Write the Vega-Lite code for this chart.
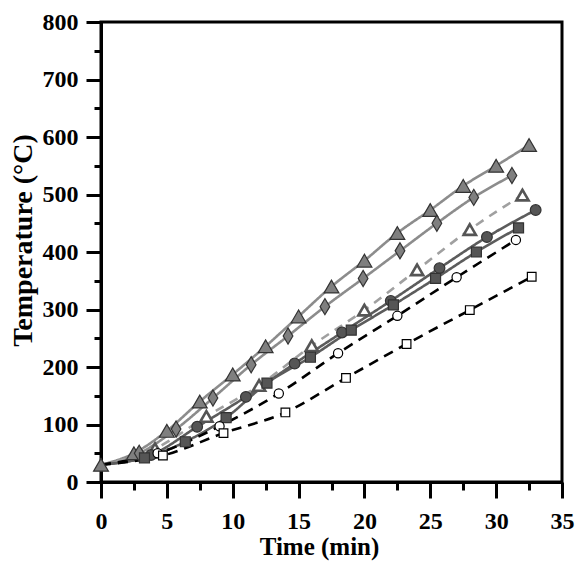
{
  "$schema": "https://vega.github.io/schema/vega-lite/v6.json",
  "width": 461,
  "height": 460,
  "autosize": "none",
  "padding": {"left": 101, "top": 22, "right": 14, "bottom": 81},
  "background": "white",
  "config": {
    "view": {"stroke": "black", "strokeWidth": 3},
    "axis": {
      "grid": false,
      "domainColor": "black",
      "domainWidth": 3,
      "tickColor": "black",
      "tickWidth": 3,
      "labelFont": "Times New Roman",
      "labelFontWeight": "bold",
      "labelFontSize": 24,
      "labelColor": "black",
      "titleFont": "Times New Roman",
      "titleFontWeight": "bold",
      "titleFontSize": 25,
      "titleColor": "black"
    }
  },
  "datasets": {
    "series": [
      {"s": "A", "t": 0, "T": 30}, {"s": "A", "t": 2.5, "T": 50}, {"s": "A", "t": 5, "T": 89}, {"s": "A", "t": 7.5, "T": 140}, {"s": "A", "t": 10, "T": 187}, {"s": "A", "t": 12.5, "T": 236}, {"s": "A", "t": 15, "T": 288}, {"s": "A", "t": 17.5, "T": 340}, {"s": "A", "t": 20, "T": 385}, {"s": "A", "t": 22.5, "T": 433}, {"s": "A", "t": 25, "T": 473}, {"s": "A", "t": 27.5, "T": 515}, {"s": "A", "t": 30, "T": 550}, {"s": "A", "t": 32.5, "T": 586},
      {"s": "B", "t": 0, "T": 30}, {"s": "B", "t": 2.9, "T": 50}, {"s": "B", "t": 5.7, "T": 92}, {"s": "B", "t": 8.5, "T": 146}, {"s": "B", "t": 11.4, "T": 204}, {"s": "B", "t": 14.2, "T": 254}, {"s": "B", "t": 17, "T": 305}, {"s": "B", "t": 19.9, "T": 354}, {"s": "B", "t": 22.7, "T": 402}, {"s": "B", "t": 25.5, "T": 450}, {"s": "B", "t": 28.3, "T": 495}, {"s": "B", "t": 31.2, "T": 533},
      {"s": "C", "t": 0, "T": 30}, {"s": "C", "t": 4.1, "T": 58}, {"s": "C", "t": 8, "T": 114}, {"s": "C", "t": 12, "T": 168}, {"s": "C", "t": 16, "T": 237}, {"s": "C", "t": 20, "T": 299}, {"s": "C", "t": 24, "T": 369}, {"s": "C", "t": 28, "T": 439}, {"s": "C", "t": 32, "T": 499},
      {"s": "D", "t": 0, "T": 30}, {"s": "D", "t": 3.8, "T": 47}, {"s": "D", "t": 7.3, "T": 96}, {"s": "D", "t": 11, "T": 148}, {"s": "D", "t": 14.7, "T": 206}, {"s": "D", "t": 18.3, "T": 260}, {"s": "D", "t": 22, "T": 315}, {"s": "D", "t": 25.7, "T": 372}, {"s": "D", "t": 29.3, "T": 426}, {"s": "D", "t": 33, "T": 473},
      {"s": "E", "t": 0, "T": 30}, {"s": "E", "t": 3.3, "T": 42}, {"s": "E", "t": 6.4, "T": 70}, {"s": "E", "t": 9.5, "T": 112}, {"s": "E", "t": 12.6, "T": 172}, {"s": "E", "t": 15.9, "T": 217}, {"s": "E", "t": 19, "T": 264}, {"s": "E", "t": 22.2, "T": 308}, {"s": "E", "t": 25.4, "T": 354}, {"s": "E", "t": 28.5, "T": 400}, {"s": "E", "t": 31.7, "T": 442},
      {"s": "F", "t": 0, "T": 30}, {"s": "F", "t": 4.3, "T": 50}, {"s": "F", "t": 9, "T": 97}, {"s": "F", "t": 13.5, "T": 154}, {"s": "F", "t": 18, "T": 224}, {"s": "F", "t": 22.5, "T": 289}, {"s": "F", "t": 27, "T": 356}, {"s": "F", "t": 31.5, "T": 421},
      {"s": "G", "t": 0, "T": 30}, {"s": "G", "t": 4.7, "T": 46}, {"s": "G", "t": 9.3, "T": 85}, {"s": "G", "t": 14, "T": 121}, {"s": "G", "t": 18.6, "T": 181}, {"s": "G", "t": 23.2, "T": 240}, {"s": "G", "t": 28, "T": 299}, {"s": "G", "t": 32.7, "T": 357}
    ]
  },
  "data": {"name": "series"},
  "encoding": {
    "x": {
      "field": "t", "type": "quantitative",
      "scale": {"domain": [0, 35], "nice": false, "zero": false},
      "axis": {
        "title": "Time (min)",
        "values": [0, 2.5, 5, 7.5, 10, 12.5, 15, 17.5, 20, 22.5, 25, 27.5, 30, 32.5, 35],
        "labelExpr": "datum.value % 5 === 0 ? datum.label : ''",
        "tickSize": {"condition": {"test": "datum.value % 5 === 0", "value": 16}, "value": 8},
        "labelPadding": 11,
        "labelFlush": false,
        "labelOverlap": false,
        "titlePadding": 1,
        "titleX": 218
      }
    },
    "y": {
      "field": "T", "type": "quantitative",
      "scale": {"domain": [0, 800], "nice": false},
      "axis": {
        "title": "Temperature (°C)",
        "titleFontSize": 28,
        "values": [0, 50, 100, 150, 200, 250, 300, 350, 400, 450, 500, 550, 600, 650, 700, 750, 800],
        "labelExpr": "datum.value % 100 === 0 ? datum.label : ''",
        "tickSize": {"condition": {"test": "datum.value % 100 === 0", "value": 15}, "value": 7},
        "labelPadding": 8,
        "labelFlush": false,
        "labelOverlap": false,
        "titlePadding": 5,
        "titleY": 218
      }
    }
  },
  "layer": [
    {
      "mark": {"type": "line", "interpolate": "monotone", "strokeWidth": 2.6},
      "encoding": {
        "detail": {"field": "s", "type": "nominal"},
        "color": {
          "field": "s", "type": "nominal", "legend": null,
          "scale": {"domain": ["A", "B", "C", "D", "E", "F", "G"], "range": ["#8c8c8c", "#8c8c8c", "#a0a0a0", "#5c5c5c", "#5c5c5c", "#000000", "#000000"]}
        },
        "strokeDash": {
          "field": "s", "type": "nominal", "legend": null,
          "scale": {"domain": ["A", "B", "C", "D", "E", "F", "G"], "range": [[1, 0], [1, 0], [9, 7], [1, 0], [1, 0], [10, 7], [10, 7]]}
        }
      }
    },
    {
      "transform": [{"filter": "datum.t > 0 || datum.s === 'A'"}],
      "mark": {"type": "point", "filled": false, "opacity": 1},
      "encoding": {
        "shape": {
          "field": "s", "type": "nominal", "legend": null,
          "scale": {"domain": ["A", "B", "C", "D", "E", "F", "G"], "range": ["triangle-up", "M0,-1L0.6,0L0,1L-0.6,0Z", "triangle-up", "circle", "square", "circle", "square"]}
        },
        "fill": {
          "field": "s", "type": "nominal", "legend": null,
          "scale": {"domain": ["A", "B", "C", "D", "E", "F", "G"], "range": ["#7f7f7f", "#7f7f7f", "#ffffff", "#555555", "#555555", "#ffffff", "#ffffff"]}
        },
        "stroke": {
          "field": "s", "type": "nominal", "legend": null,
          "scale": {"domain": ["A", "B", "C", "D", "E", "F", "G"], "range": ["#333333", "#333333", "#555555", "#333333", "#333333", "#000000", "#000000"]}
        },
        "size": {
          "condition": [
            {"test": "datum.s === 'A'", "value": 220},
            {"test": "datum.s === 'B'", "value": 260},
            {"test": "datum.s === 'C'", "value": 150},
            {"test": "datum.s === 'D'", "value": 115},
            {"test": "datum.s === 'E'", "value": 100},
            {"test": "datum.s === 'F'", "value": 85}
          ],
          "value": 75
        },
        "strokeWidth": {"condition": {"test": "datum.s === 'C'", "value": 2.6}, "value": 1.2}
      }
    },
    {
      "data": {"values": [{"label": "Section D"}]},
      "mark": {"type": "text", "font": "Times New Roman", "fontWeight": "bold", "fontSize": 19, "align": "left", "baseline": "alphabetic", "color": "black"},
      "encoding": {
        "x": {"datum": 1.2, "type": "quantitative"},
        "y": {"datum": 745, "type": "quantitative"},
        "text": {"field": "label", "type": "nominal"}
      }
    }
  ]
}
